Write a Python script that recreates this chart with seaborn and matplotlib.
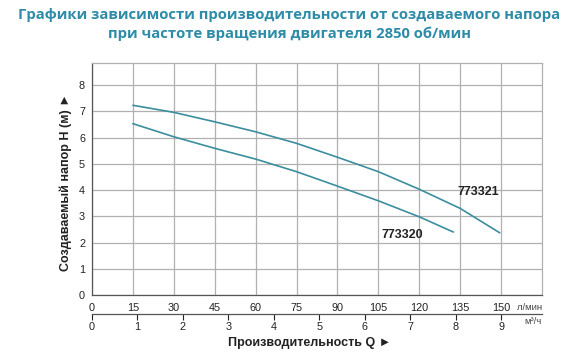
import matplotlib
matplotlib.use("Agg")
import matplotlib.pyplot as plt
import seaborn as sns
import pandas as pd

# ---- data ----
q_773321 = [15, 30, 45, 60, 75, 90, 105, 120, 135, 149.5]
h_773321 = [7.23, 6.96, 6.60, 6.22, 5.78, 5.25, 4.70, 4.03, 3.30, 2.37]
q_773320 = [15, 30, 45, 60, 75, 90, 105, 120, 132.5]
h_773320 = [6.53, 6.03, 5.59, 5.18, 4.70, 4.15, 3.59, 2.98, 2.40]
models = ["773321", "773320"]
x_ticks_lmin = [0, 15, 30, 45, 60, 75, 90, 105, 120, 135, 150]
x_ticks_m3h = [0, 1, 2, 3, 4, 5, 6, 7, 8, 9]
y_ticks = [0, 1, 2, 3, 4, 5, 6, 7, 8]
title = "Графики зависимости производительности от создаваемого напора\nпри частоте вращения двигателя 2850 об/мин"
xlabel = "Производительность Q ►"
ylabel = "Создаваемый напор H (м) ►"

df = pd.concat([
    pd.DataFrame({"Q": q_773321, "H": h_773321, "model": models[0]}),
    pd.DataFrame({"Q": q_773320, "H": h_773320, "model": models[1]}),
])

sns.set_theme(style="white")
plt.rcParams["font.family"] = ["Liberation Sans", "DejaVu Sans"]

curve_col = "#3b8e9e"
grid_col = "#b0b0b0"

fig = plt.figure(figsize=(5.8, 3.52), dpi=100)
ax = fig.add_axes([92/580, 1-295/352, 450/580, (295-63.3)/352])

sns.lineplot(data=df, x="Q", y="H", hue="model", palette=[curve_col, curve_col],
             ax=ax, legend=False, linewidth=1.2, sort=False, estimator=None)

ax.set_xlim(0, 165)
ax.set_ylim(0, 8.83)
ax.set_xticks(x_ticks_lmin)
ax.set_yticks(y_ticks)
ax.set_xticklabels([str(v) for v in x_ticks_lmin])
ax.grid(True, color=grid_col, linewidth=0.9)
ax.tick_params(axis="both", length=0, labelsize=7.8, colors="#222222")
ax.tick_params(axis="x", pad=6)
ax.tick_params(axis="y", pad=5)
ax.set_xlabel("")
ax.set_ylabel("")
for s in ["top", "right"]:
    ax.spines[s].set_color(grid_col)
    ax.spines[s].set_linewidth(0.9)
for s in ["left", "bottom"]:
    ax.spines[s].set_color("#555555")
    ax.spines[s].set_linewidth(0.9)

# secondary m3/h axis
sec = ax.secondary_xaxis(-19/231.7, functions=(lambda q: q * 60 / 1000, lambda m: m * 1000 / 60))
sec.set_xticks(x_ticks_m3h)
sec.tick_params(axis="x", direction="out", length=4, width=0.8, labelsize=7.8, pad=2, colors="#222222")
sec.spines["bottom"].set_color("#555555")
sec.spines["bottom"].set_linewidth(0.9)

# unit labels
fig.text(542/580, 1-307/352, "л/мин", ha="right", va="center", fontsize=6.8, color="#444444")
fig.text(542/580, 1-322/352, "м³/ч", ha="right", va="center", fontsize=6.8, color="#444444")

# curve labels
ax.text(141.7, 3.93, models[0], ha="center", va="center", fontsize=9, fontweight="bold", color="#222222")
ax.text(113.6, 2.29, models[1], ha="center", va="center", fontsize=9, fontweight="bold", color="#222222")

fig.text(310/580, 1-343/352, xlabel, ha="center", va="center", fontsize=9, fontweight="bold", color="#222222")
fig.text(66/580, 1-182/352, ylabel, ha="center", va="center", rotation=90, fontsize=9, fontweight="bold", color="#222222")

fig.text(289/580, 1-24.5/352, title, ha="center", va="center", fontsize=10.7, fontweight="bold",
         color="#2e8ca8", family=["Open Sans", "DejaVu Sans"], linespacing=1.45)

fig.savefig("out.png", dpi=100, facecolor="white")
